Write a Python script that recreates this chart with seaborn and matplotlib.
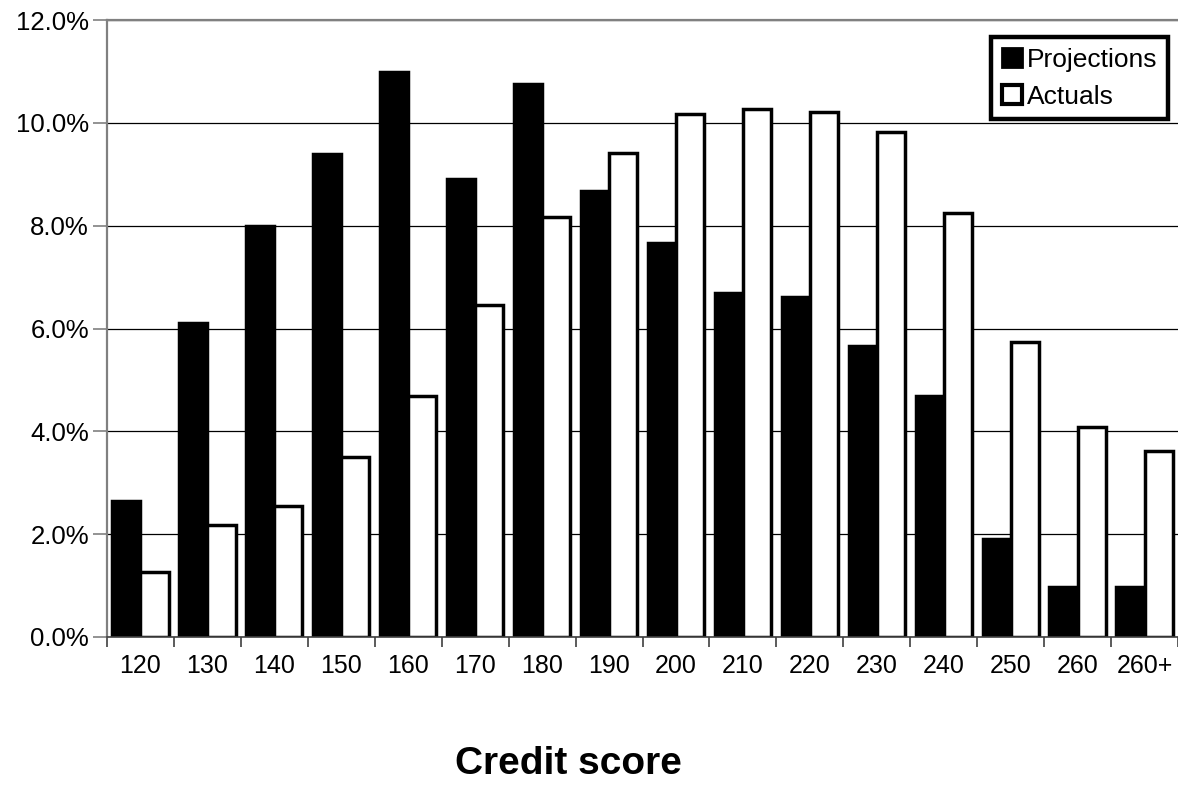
import matplotlib
matplotlib.use("Agg")
import matplotlib.pyplot as plt
from matplotlib.ticker import PercentFormatter, FixedLocator
from matplotlib.patches import Patch
import seaborn as sns
import pandas as pd

# Share of accounts per credit-score band (percent)
score_bands = ["120", "130", "140", "150", "160", "170", "180", "190",
               "200", "210", "220", "230", "240", "250", "260", "260+"]
projections = [2.65, 6.10, 8.00, 9.40, 10.98, 8.90, 10.76, 8.68,
               7.67, 6.70, 6.61, 5.65, 4.69, 1.90, 0.97, 0.97]
actuals = [1.27, 2.18, 2.54, 3.50, 4.69, 6.46, 8.16, 9.42,
           10.17, 10.27, 10.21, 9.83, 8.24, 5.73, 4.09, 3.62]
series_names = ["Projections", "Actuals"]

df = pd.DataFrame({
    "band": score_bands * 2,
    "series": [series_names[0]] * len(score_bands) + [series_names[1]] * len(score_bands),
    "share": projections + actuals,
})

sns.set_theme(style="white")
plt.rcParams["font.family"] = ["Liberation Sans", "DejaVu Sans"]
plt.rcParams["text.color"] = "black"

W, H = 1178, 785
fig = plt.figure(figsize=(W / 100, H / 100), dpi=100)
ax = fig.add_axes([107 / W, 1 - 637 / H, 1 - 107 / W, (637 - 20) / H])

sns.barplot(data=df, x="band", y="share", hue="series", order=score_bands,
            hue_order=series_names,
            palette={"Projections": "black", "Actuals": "white"},
            edgecolor="black", linewidth=2.5, width=0.84, saturation=1,
            legend=False, ax=ax)

ax.set_ylim(0, 12)
ax.set_xlim(-0.5, len(score_bands) - 0.5)
ax.yaxis.set_major_locator(FixedLocator([0, 2, 4, 6, 8, 10, 12]))
ax.yaxis.set_major_formatter(PercentFormatter(xmax=100, decimals=1))
ax.set_axisbelow(True)
ax.yaxis.grid(True, color="black", linewidth=0.9)
ax.xaxis.grid(False)

# Spines: grey left and top, dark baseline, no right edge
for side in ("left", "top"):
    ax.spines[side].set_visible(True)
    ax.spines[side].set_color("#808080")
    ax.spines[side].set_linewidth(1.6)
ax.spines["bottom"].set_color("#404040")
ax.spines["bottom"].set_linewidth(1.2)
ax.spines["right"].set_visible(False)

# Category separators as ticks on the baseline
ax.set_xticks([i + 0.5 for i in range(-1, len(score_bands))], minor=True)
ax.tick_params(axis="x", which="major", length=0, pad=12, labelsize=18)
ax.tick_params(axis="x", which="minor", bottom=True, direction="out",
               length=7, width=1.2, color="#404040")
ax.tick_params(axis="y", which="major", left=True, direction="out",
               length=10, width=1.2, color="#808080", pad=3, labelsize=18.5)
for lbl in ax.get_xticklabels() + ax.get_yticklabels():
    lbl.set_color("black")

ax.set_ylabel("")
ax.set_xlabel("")
fig.text(568 / W, 1 - 764 / H, "Credit score", ha="center", va="center",
         fontsize=28, fontweight="bold", color="black")

handles = [Patch(facecolor="black", edgecolor="black", linewidth=2),
           Patch(facecolor="white", edgecolor="black", linewidth=3)]
leg = ax.legend(handles, series_names, loc="upper right",
                bbox_to_anchor=(0.9907, 0.9724), borderaxespad=0,
                fancybox=False, framealpha=1, edgecolor="black",
                fontsize=19, handlelength=0.75, handleheight=0.75,
                handletextpad=0.2, labelspacing=0.5, borderpad=0.4)
leg.get_frame().set_linewidth(3.2)
for t in leg.get_texts():
    t.set_color("black")

fig.savefig("out.png", dpi=100, facecolor="white")
